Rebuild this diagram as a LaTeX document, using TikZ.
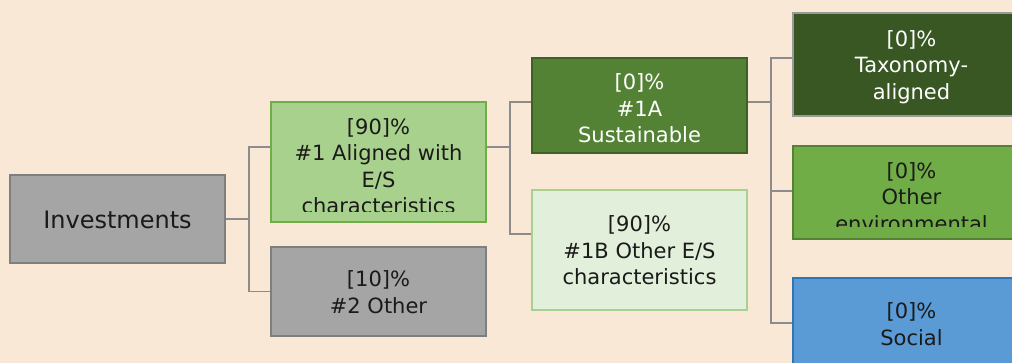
\documentclass[tikz,border=0pt]{standalone}
\usepackage{fontspec}
\setmainfont{DejaVu Sans}
\definecolor{bg}{HTML}{FAE8D7}
\definecolor{grayfill}{HTML}{A5A5A5}
\definecolor{grayline}{HTML}{7F7F7F}
\definecolor{lgreen}{HTML}{A9D18E}
\definecolor{lgreenline}{HTML}{70AD47}
\definecolor{mgreen}{HTML}{548235}
\definecolor{mgreenline}{HTML}{3F6128}
\definecolor{pgreen}{HTML}{E2EFDA}
\definecolor{dgreen}{HTML}{385723}
\definecolor{dgreenline}{HTML}{9A9A9A}
\definecolor{egreen}{HTML}{70AD47}
\definecolor{egreenline}{HTML}{548235}
\definecolor{blue}{HTML}{5B9BD5}
\definecolor{blueline}{HTML}{2E75B6}
\definecolor{conn}{HTML}{8C8C8C}
\definecolor{txt}{HTML}{1A1A1A}
\tikzset{
  box/.style={rectangle, line width=2pt, inner sep=0pt},
  lbl/.style={inner sep=0pt, align=center, anchor=base,
    font=\fontsize{21}{26.5}\selectfont, text=txt},
  conline/.style={draw=conn, line width=1.3pt},
}
\begin{document}
\begin{tikzpicture}[x=1pt,y=-1pt]
\fill[bg] (0,0) rectangle (1012,363);
\useasboundingbox (0,0) rectangle (1012,363);
\clip (0,0) rectangle (1012,363);
% boxes
\node[box, fill=grayfill, draw=grayline, minimum width=215pt, minimum height=88pt] (inv) at (117.5,219) {};
\node[box, fill=lgreen, draw=lgreenline, minimum width=215pt, minimum height=120pt] (n1) at (378.5,162) {};
\node[box, fill=grayfill, draw=grayline, minimum width=215pt, minimum height=89pt] (n2) at (378.5,291.5) {};
\node[box, fill=mgreen, draw=mgreenline, minimum width=215pt, minimum height=95pt] (n1a) at (639.5,105.5) {};
\node[box, fill=pgreen, draw=lgreen, minimum width=215pt, minimum height=120pt] (n1b) at (639.5,250) {};
\node[box, fill=dgreen, draw=dgreenline, line width=1.2pt, minimum width=237pt, minimum height=103pt] (tax) at (911.5,64.5) {};
\node[box, fill=egreen, draw=egreenline, minimum width=237pt, minimum height=93pt] (env) at (911.5,192.5) {};
\node[box, fill=blue, draw=blueline, minimum width=237pt, minimum height=102pt] (soc) at (911.5,329) {};
% texts (anchored at last baseline)
\node[lbl, font=\fontsize{24}{29}\selectfont] (tinv) at (117.5,229) {Investments};
\node[lbl] (tn2) at (378.5,313) {[10]\%\\\#2 Other};
\node[lbl, text=white] (tn1a) at (639.5,143) {[0]\%\\\#1A\\Sustainable};
\node[lbl] (tn1b) at (639.5,285) {[90]\%\\\#1B Other E/S\\characteristics};
\node[lbl, text=white] (ttax) at (911.5,99.5) {[0]\%\\Taxonomy-\\aligned};
\node[lbl] (tsoc) at (911.5,345) {[0]\%\\Social};
\begin{scope}
\clip (272,103) rectangle (485,212);
\node[lbl] (tn1) at (378.5,214) {[90]\%\\\#1 Aligned with\\E/S\\characteristics};
\end{scope}
\begin{scope}
\clip (794,147) rectangle (1012,227);
\node[lbl] (tenv) at (911.5,231.5) {[0]\%\\Other\\environmental};
\end{scope}
% connectors
\draw[conline] (inv.east) -- ++(23,0) coordinate (b1);
\draw[conline] (b1) |- ([yshift=15pt]n1.west);
\draw[conline] (b1) |- (n2.west);
\draw[conline] ([yshift=15pt]n1.east) -- ++(23,0) coordinate (b2);
\draw[conline] (b2) |- ([yshift=3.5pt]n1a.west);
\draw[conline] (b2) |- ([yshift=16pt]n1b.west);
\draw[conline] ([yshift=3.5pt]n1a.east) -- ++(23,0) coordinate (b3);
\draw[conline] (b3) |- ([yshift=6.5pt]tax.west);
\draw[conline] (b3) |- ([yshift=1.5pt]env.west);
\draw[conline] (b3) |- ([yshift=6pt]soc.west);
\end{tikzpicture}
\end{document}
